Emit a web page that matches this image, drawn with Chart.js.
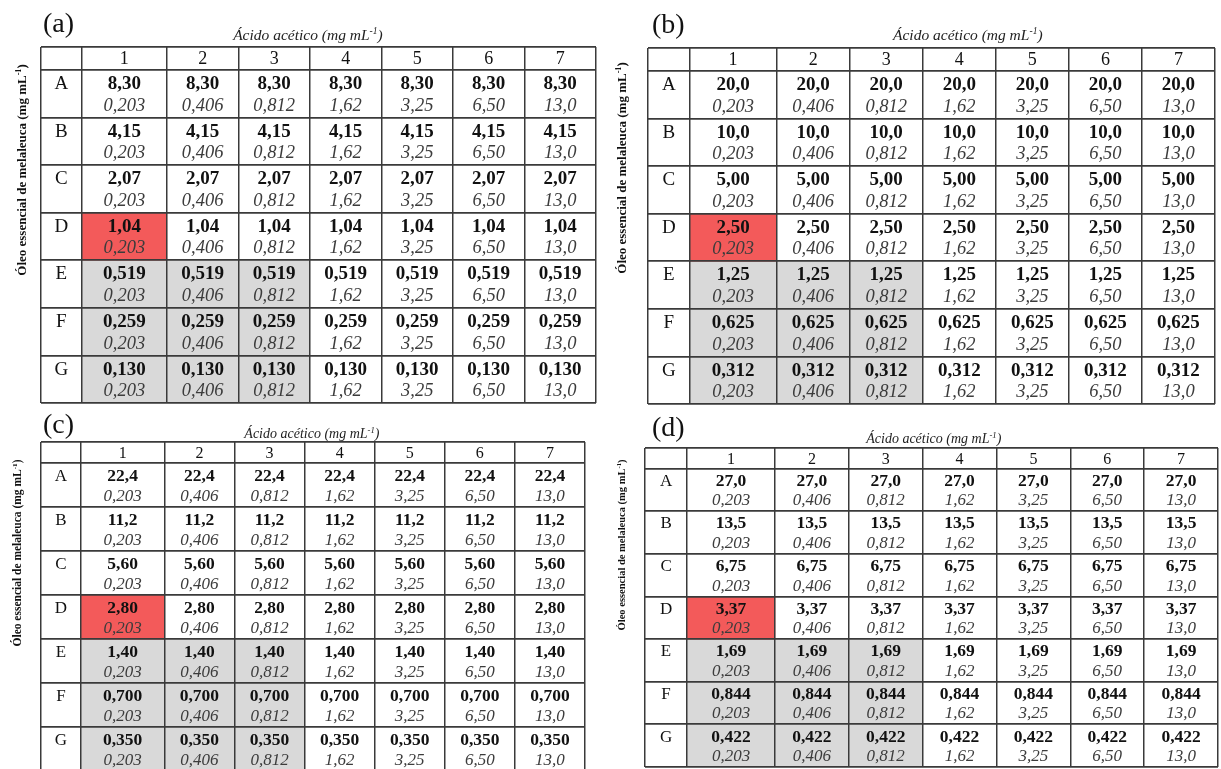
<!DOCTYPE html>
<html><head><meta charset="utf-8">
<script src="https://cdn.jsdelivr.net/npm/chart.js@4.4.1/dist/chart.umd.min.js"></script>
<style>
html,body{margin:0;padding:0;background:#fff;width:1221px;height:769px;overflow:hidden;position:relative}
canvas{position:absolute;display:block}
</style></head><body>
<canvas id="ca"></canvas>
<canvas id="cb"></canvas>
<canvas id="cc"></canvas>
<canvas id="cd"></canvas>
<script>
// ---------------- DATA ----------------
const rowLabels = ['A', 'B', 'C', 'D', 'E', 'F', 'G'];
const colLabels = ['1', '2', '3', '4', '5', '6', '7'];
const aceticValues = [0.203, 0.406, 0.812, 1.62, 3.25, 6.50, 13.0];   // mg/mL, per column
const oilA = [8.30, 4.15, 2.07, 1.04, 0.519, 0.259, 0.130];          // mg/mL, per row
const oilB = [20.0, 10.0, 5.00, 2.50, 1.25, 0.625, 0.312];
const oilC = [22.4, 11.2, 5.60, 2.80, 1.40, 0.700, 0.350];
const oilD = [27.0, 13.5, 6.75, 3.37, 1.69, 0.844, 0.422];
const panelLetters = ['(a)', '(b)', '(c)', '(d)'];
const micRows = ['D'];            // red cell(s)
const micCols = ['1'];
const grayRows = ['E', 'F', 'G']; // grey cells
const grayCols = ['1', '2', '3'];
const xTitleParts = ['Ácido acético (mg mL', '-1', ')'];
const yTitleParts = ['Óleo essencial de melaleuca (mg mL', '-1', ')'];

// ---------------- LAYOUT ----------------
const colWeights = [0.57, 1.19, 1, 1, 1, 1, 1, 1];
const headerWeight = 0.48;
const FONT = '"Liberation Serif", "Times New Roman", serif';
const RED = '#f35a5a', GRAY = '#d9d9d9', LINE = '#3a3a3a';

function cumulative(ws, start) { const o = [start]; ws.forEach(w => o.push(o[o.length - 1] + w)); return o; }
const xEdges = cumulative(colWeights, 0);
const yEdges = [-headerWeight].concat(cumulative(rowLabels.map(() => 1), 0));
function fmt(v) { return v.toPrecision(3).replace('.', ','); }

const pad = { left: 40, top: 48, right: 6, bottom: 4 };
const panels = [
  { id: 'ca', oil: oilA, letter: panelLetters[0], table: [41, 47, 555, 356],
    letterPos: [2, -15, 28], title: [0.481, -7, 15.5], ylab: [-20, 123, 13], cell: [18, 19, 19, 18.5] },
  { id: 'cb', oil: oilB, letter: panelLetters[1], table: [648, 48, 567, 356],
    letterPos: [4, -15, 28], title: [0.564, -8, 15.5], ylab: [-27, 120, 13], cell: [18, 19, 19, 18.5] },
  { id: 'cc', oil: oilC, letter: panelLetters[2], table: [41, 442, 544, 329],
    letterPos: [2, -9, 28], title: [0.498, -4, 14], ylab: [-24, 111, 11.5], cell: [16, 17, 17.5, 17] },
  { id: 'cd', oil: oilD, letter: panelLetters[3], table: [645, 448, 573, 319],
    letterPos: [7, -12, 28], title: [0.504, -5, 14], ylab: [-24, 97, 10.5], cell: [16, 17, 17.5, 17] }
];

function drawSupText(ctx, parts, x, y, size, style) {
  const base = `${style} ${size}px ${FONT}`;
  const sup = `${style} ${size * 0.62}px ${FONT}`;
  const fonts = [base, sup, base];
  const widths = parts.map((t, i) => { ctx.font = fonts[i]; return ctx.measureText(t).width; });
  let cx = x - widths.reduce((a, b) => a + b, 0) / 2;
  ctx.textAlign = 'left';
  parts.forEach((t, i) => {
    ctx.font = fonts[i];
    ctx.fillText(t, cx, i === 1 ? y - size * 0.38 : y);
    cx += widths[i];
  });
}

function cellBars(rows, cols) {
  const out = [];
  rows.forEach(r => cols.forEach(c => {
    const i = rowLabels.indexOf(r), j = colLabels.indexOf(c);
    out.push({ x: [xEdges[j + 1], xEdges[j + 2]], y: i + 0.5 });
  }));
  return out;
}

panels.forEach(p => {
  const [tx, ty, tw, th] = p.table;
  const cv = document.getElementById(p.id);
  const W = tw + pad.left + pad.right, H = th + pad.top + pad.bottom;
  cv.width = W; cv.height = H;
  cv.style.left = (tx - pad.left) + 'px'; cv.style.top = (ty - pad.top) + 'px';
  cv.style.width = W + 'px'; cv.style.height = H + 'px';

  const textPlugin = {
    id: 'tableText',
    afterDraw(chart) {
      const { ctx, chartArea: a, scales: { x, y } } = chart;
      ctx.save();
      ctx.textBaseline = 'alphabetic';
      ctx.fillStyle = '#111';
      const px = v => x.getPixelForValue(v), py = v => y.getPixelForValue(v);
      // header row
      ctx.textAlign = 'center';
      ctx.font = `${p.cell[0]}px ${FONT}`;
      const hTop = py(yEdges[0]), hBot = py(yEdges[1]);
      colLabels.forEach((c, j) => {
        ctx.fillText(c, (px(xEdges[j + 1]) + px(xEdges[j + 2])) / 2, (hTop + hBot) / 2 + p.cell[0] * 0.33);
      });
      rowLabels.forEach((r, i) => {
        const top = py(i), bot = py(i + 1), h = bot - top;
        const b1 = top + 0.27 * h + p.cell[2] * 0.33;
        const b2 = top + 0.73 * h + p.cell[3] * 0.33;
        ctx.textAlign = 'center';
        ctx.fillStyle = '#111';
        ctx.font = `${p.cell[1]}px ${FONT}`;
        ctx.fillText(r, (px(xEdges[0]) + px(xEdges[1])) / 2, b1);
        colLabels.forEach((c, j) => {
          const cx = (px(xEdges[j + 1]) + px(xEdges[j + 2])) / 2;
          ctx.fillStyle = '#111';
          ctx.font = `bold ${p.cell[2]}px ${FONT}`;
          ctx.fillText(fmt(p.oil[i]), cx, b1);
          ctx.fillStyle = '#3c3c3c';
          ctx.font = `italic ${p.cell[3]}px ${FONT}`;
          ctx.fillText(fmt(aceticValues[j]), cx, b2);
        });
      });
      // panel letter
      ctx.fillStyle = '#111';
      ctx.textAlign = 'left';
      ctx.font = `${p.letterPos[2]}px ${FONT}`;
      ctx.fillText(p.letter, a.left + p.letterPos[0], a.top + p.letterPos[1]);
      // x title
      ctx.fillStyle = '#222';
      drawSupText(ctx, xTitleParts, a.left + p.title[0] * (a.right - a.left), a.top + p.title[1], p.title[2], 'italic');
      // y title (rotated)
      ctx.save();
      ctx.translate(a.left + p.ylab[0], a.top + p.ylab[1]);
      ctx.rotate(-Math.PI / 2);
      ctx.fillStyle = '#111';
      drawSupText(ctx, yTitleParts, 0, p.ylab[2] * 0.35, p.ylab[2], 'bold');
      ctx.restore();
      ctx.restore();
    }
  };

  const gridAxis = (edges, lw) => ({
    type: 'linear', display: true, offset: false,
    min: edges[0], max: edges[edges.length - 1],
    afterBuildTicks: s => { s.ticks = edges.map(v => ({ value: v })); },
    ticks: { display: false },
    border: { display: false },
    grid: { color: LINE, lineWidth: lw, drawTicks: false, offset: false, z: 1 },
    title: { display: false }
  });

  new Chart(cv, {
    type: 'bar',
    data: {
      datasets: [
        { label: 'MIC', data: cellBars(micRows, micCols), backgroundColor: RED, yAxisID: 'yb', xAxisID: 'x' },
        { label: 'grey', data: cellBars(grayRows, grayCols), backgroundColor: GRAY, yAxisID: 'yb', xAxisID: 'x' }
      ]
    },
    options: {
      indexAxis: 'y',
      responsive: false,
      animation: false,
      events: [],
      layout: { padding: pad },
      datasets: { bar: { barPercentage: 1, categoryPercentage: 1, grouped: false, borderWidth: 0 } },
      scales: {
        x: Object.assign(gridAxis(xEdges, 1.5), { position: 'top' }),
        y: Object.assign(gridAxis(yEdges, 1.8), { reverse: true, position: 'left' }),
        yb: {
          type: 'linear', axis: 'y', display: false, reverse: true, offset: false,
          grid: { offset: false },
          min: yEdges[0], max: yEdges[yEdges.length - 1],
          afterBuildTicks: s => { s.ticks = []; }
        }
      },
      plugins: { legend: { display: false }, tooltip: { enabled: false }, title: { display: false } }
    },
    plugins: [textPlugin]
  });
});
</script>
</body></html>
